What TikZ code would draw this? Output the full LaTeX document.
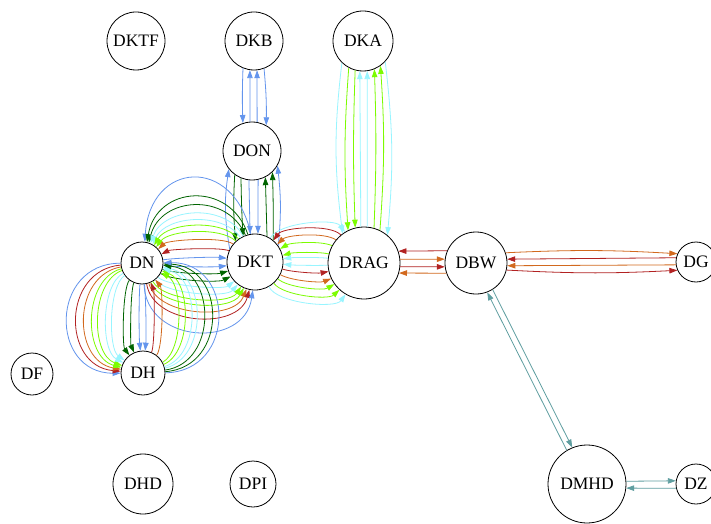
\documentclass[tikz,border=0pt]{standalone}
\usepackage{fontspec}
\setmainfont{Liberation Serif}
\usetikzlibrary{arrows.meta}
\definecolor{cblue}{HTML}{6495ED}
\definecolor{dgreen}{HTML}{006400}
\definecolor{lcyan}{HTML}{98F5FF}
\definecolor{lgreen}{HTML}{7CFC00}
\definecolor{choc}{HTML}{D2691E}
\definecolor{fbrick}{HTML}{B22222}
\definecolor{cadet}{HTML}{5F9EA0}
\tikzset{
  nd/.style={circle, draw=black, line width=0.8pt, inner sep=0pt, font=\fontsize{17.5}{20}\selectfont},
  ed/.style={line width=0.8pt},
  fw/.style={ed, -{Triangle[length=8pt,width=5.5pt]}},
  bw/.style={ed, {Triangle[length=8pt,width=5.5pt]}-},
}
\begin{document}
\begin{tikzpicture}[x=1pt,y=1pt]
\fill[white] (0,0) rectangle (711,523);
\useasboundingbox (0,0) rectangle (711,523);
% nodes
\node[nd, minimum size=58pt] (DKTF) at (136,482) {DKTF};
\node[nd, minimum size=58pt] (DKB) at (254,482) {DKB};
\node[nd, minimum size=60pt] (DKA) at (363,482) {DKA};
\node[nd, minimum size=58pt] (DON) at (252,372) {DON};
\node[nd, minimum size=42pt] (DN) at (142,260) {DN};
\node[nd, minimum size=56pt] (DKT) at (255,261) {DKT};
\node[nd, minimum size=72pt] (DRAG) at (364,260) {DRAG};
\node[nd, minimum size=62pt] (DBW) at (476,260) {DBW};
\node[nd, minimum size=40pt] (DG) at (696,261) {DG};
\node[nd, minimum size=42pt] (DF) at (32,149) {DF};
\node[nd, minimum size=44pt] (DH) at (143,150) {DH};
\node[nd, minimum size=60pt] (DHD) at (143,39) {DHD};
\node[nd, minimum size=46pt] (DPI) at (253,39) {DPI};
\node[nd, minimum size=78pt] (DMHD) at (587,39) {DMHD};
\node[nd, minimum size=40pt] (DZ) at (696,39) {DZ};
% DKB - DON
\draw[fw, cblue] (DKB.-112) to[bend right=2] (DON.108);
\draw[bw, cblue] (DKB.-98) -- (DON.94);
\draw[bw, cblue] (DKB.-84) -- (DON.80);
\draw[fw, cblue] (DKB.-70) to[bend left=3] (DON.61);
% DKA - DRAG
\draw[fw, lcyan] (DKA.-134) to[bend right=7] (DRAG.126);
\draw[fw, lgreen] (DKA.-118) to[bend right=4] (DRAG.116);
\draw[fw, lgreen] (DKA.-105) to[bend right=2] (DRAG.104);
\draw[bw, lcyan] (DKA.-96) -- (DRAG.95);
\draw[bw, lcyan] (DKA.-82) -- (DRAG.85);
\draw[bw, lgreen] (DKA.-68) to[bend left=2] (DRAG.74);
\draw[bw, lgreen] (DKA.-55) to[bend left=4] (DRAG.64);
\draw[fw, lcyan] (DKA.-43) to[bend left=6] (DRAG.50);
% DON - DKT
\draw[bw, cblue] (DON.-142) to[bend right=9] (DKT.153);
\draw[fw, dgreen] (DON.-126) to[bend right=4] (DKT.133);
\draw[fw, dgreen] (DON.-112) to[bend right=1] (DKT.115);
\draw[fw, cblue] (DON.-96) -- (DKT.100);
\draw[fw, cblue] (DON.-78) -- (DKT.84);
\draw[bw, dgreen] (DON.-63) -- (DKT.65);
\draw[bw, dgreen] (DON.-46) to[bend left=1] (DKT.50);
\draw[bw, cblue] (DON.-30) to[bend left=6] (DKT.35);
% DN - DKT upper (DKT -> DN)
\draw[bw, cblue] (DN) to[bend left=82, looseness=1.95] (DKT);
\draw[bw, dgreen] (DN) to[bend left=76, looseness=1.45] (DKT);
\draw[bw, dgreen] (DN) to[bend left=71, looseness=1.25] (DKT);
\draw[bw, lcyan] (DN) to[bend left=66, looseness=1.05] (DKT);
\draw[bw, lcyan] (DN) to[bend left=60, looseness=0.92] (DKT);
\draw[bw, lgreen] (DN) to[bend left=55, looseness=0.8] (DKT);
\draw[bw, lgreen] (DN) to[bend left=48, looseness=0.68] (DKT);
\draw[bw, choc] (DN) to[bend left=40, looseness=0.45] (DKT);
\draw[bw, fbrick] (DN) to[bend left=24, looseness=0.4] (DKT);
% DN -> DKT
\draw[fw, cblue] (DN) to[bend left=8, looseness=0.5] (DKT);
\draw[fw, cblue] (DN) to[bend right=7, looseness=0.5] (DKT);
\draw[fw, dgreen] (DN) to[bend right=18, looseness=0.5] (DKT);
\draw[fw, dgreen] (DN) to[bend right=30, looseness=0.5] (DKT);
\draw[fw, lcyan] (DN) to[bend right=42, looseness=0.45] (DKT);
\draw[fw, lcyan] (DN) to[bend right=52, looseness=0.55] (DKT);
\draw[fw, lgreen] (DN) to[bend right=60, looseness=0.65] (DKT);
\draw[fw, lgreen] (DN) to[bend right=66, looseness=0.75] (DKT);
\draw[fw, choc] (DN) to[bend right=72, looseness=0.9] (DKT);
\draw[fw, fbrick] (DN) to[bend right=78, looseness=1.05] (DKT);
\draw[fw, cblue] (DN) to[bend right=85, looseness=1.4] (DKT);
% DN -> DH (left)
\draw[fw, cblue] (DN) to[bend right=90, looseness=1.66] (DH);
\draw[fw, fbrick] (DN) to[bend right=85, looseness=1.43] (DH);
\draw[fw, choc] (DN) to[bend right=80, looseness=1.24] (DH);
\draw[fw, lgreen] (DN) to[bend right=75, looseness=1.04] (DH);
\draw[fw, lgreen] (DN) to[bend right=70, looseness=0.9] (DH);
\draw[fw, lcyan] (DN) to[bend right=62, looseness=0.73] (DH);
\draw[fw, lcyan] (DN) to[bend right=55, looseness=0.6] (DH);
\draw[fw, dgreen] (DN) to[bend right=37, looseness=0.4] (DH);
\draw[fw, dgreen] (DN) to[bend right=23, looseness=0.35] (DH);
\draw[fw, cblue] (DN) to[bend right=6, looseness=0.5] (DH);
\draw[fw, cblue] (DN) to[bend left=6, looseness=0.5] (DH);
% DH -> DN (right)
\draw[bw, fbrick] (DN) to[bend left=23, looseness=0.35] (DH);
\draw[bw, choc] (DN) to[bend left=38, looseness=0.4] (DH);
\draw[bw, lgreen] (DN) to[bend left=62, looseness=0.7] (DH);
\draw[bw, lgreen] (DN) to[bend left=68, looseness=0.85] (DH);
\draw[bw, lcyan] (DN) to[bend left=74, looseness=1] (DH);
\draw[bw, lcyan] (DN) to[bend left=78, looseness=1.12] (DH);
\draw[bw, dgreen] (DN) to[bend left=83, looseness=1.3] (DH);
\draw[bw, dgreen] (DN) to[bend left=87, looseness=1.5] (DH);
\draw[bw, cblue] (DN) to[bend left=90, looseness=1.66] (DH);
% DKT - DRAG
\draw[fw, lcyan] (DKT) to[bend left=58, looseness=0.6] (DRAG);
\draw[bw, fbrick] (DKT) to[bend left=50, looseness=0.6] (DRAG);
\draw[bw, choc] (DKT) to[bend left=39, looseness=0.6] (DRAG);
\draw[bw, lgreen] (DKT) to[bend left=28, looseness=0.6] (DRAG);
\draw[bw, lgreen] (DKT) to[bend left=14, looseness=0.6] (DRAG);
\draw[bw, lcyan] (DKT) to[bend left=7, looseness=0.6] (DRAG);
\draw[bw, lcyan] (DKT) to[bend right=4, looseness=0.6] (DRAG);
\draw[fw, fbrick] (DKT) to[bend right=14, looseness=0.6] (DRAG);
\draw[fw, choc] (DKT) to[bend right=26, looseness=0.6] (DRAG);
\draw[fw, lgreen] (DKT) to[bend right=36, looseness=0.6] (DRAG);
\draw[fw, lgreen] (DKT) to[bend right=48, looseness=0.6] (DRAG);
\draw[fw, lcyan] (DKT) to[bend right=60, looseness=0.6] (DRAG);
% DRAG - DBW
\draw[bw, fbrick] (DRAG.19) -- (DBW.157);
\draw[fw, choc] (DRAG.6) -- (DBW.173);
\draw[fw, fbrick] (DRAG.-6) -- (DBW.187);
\draw[bw, choc] (DRAG.-16) -- (DBW.199);
% DBW - DG
\draw[fw, choc] (DBW.19) to[bend left=3] (DG.156);
\draw[bw, fbrick] (DBW.7) -- (DG.168);
\draw[bw, choc] (DBW.-5) -- (DG.188);
\draw[fw, fbrick] (DBW.-13) to[bend right=3] (DG.204);
% DBW - DMHD
\draw[fw, cadet] (DBW.-58) -- (DMHD.112);
\draw[bw, cadet] (DBW.-69) -- (DMHD.121);
% DMHD - DZ
\draw[fw, cadet] (DMHD.4) -- (DZ.171);
\draw[bw, cadet] (DMHD.-6) -- (DZ.192);
\end{tikzpicture}
\end{document}
